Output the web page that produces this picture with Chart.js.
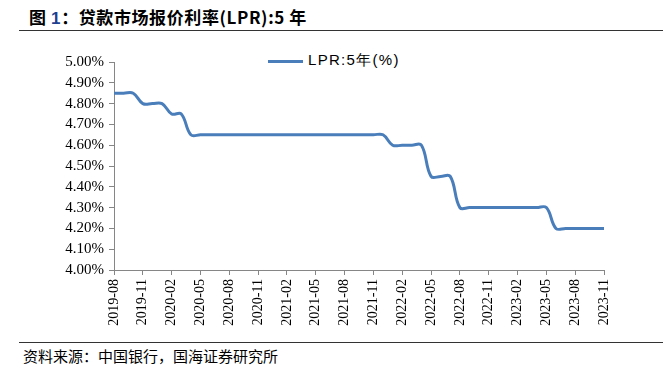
<!DOCTYPE html>
<html>
<head>
<meta charset="utf-8">
<script src="https://cdn.jsdelivr.net/npm/chart.js@4"></script>
<style>
  body { margin: 0; background: #fff; width: 663px; height: 376px; position: relative; overflow: hidden; }
  #title { position: absolute; left: 29px; top: 4px; font: bold 17px "Noto Sans CJK SC", sans-serif; letter-spacing: 0.6px; color: #000; white-space: nowrap; }
  #title .num { color: #1f3f8f; font-family: "Liberation Sans", sans-serif; }
  .rule { position: absolute; left: 19px; width: 644px; height: 0; border-top: 1.5px solid #333; }
  #legend { position: absolute; left: 268px; top: 51px; height: 20px; white-space: nowrap; }
  #legend .swatch { position: absolute; left: 0; top: 9px; width: 35px; height: 3px; background: #4a7ebb; }
  #legend .label { position: absolute; left: 40px; top: 0; font: 15px "Liberation Sans", sans-serif; letter-spacing: 1.3px; color: #000; }
  #source { position: absolute; left: 23px; top: 345px; font: 15px "Noto Sans CJK SC", sans-serif; color: #000; white-space: nowrap; }
  #wrap { position: absolute; left: 0; top: 40px; width: 663px; height: 295px; }
</style>
</head>
<body>
<div id="title">图 <span class="num">1</span>：贷款市场报价利率(LPR):5 年</div>
<div class="rule" style="top:30px"></div>
<div id="legend"><div class="swatch"></div><div class="label">LPR:5年(%)</div></div>
<div id="wrap"><canvas id="chart"></canvas></div>
<div class="rule" style="top:342px"></div>
<div id="source">资料来源：中国银行，国海证券研究所</div>

<script>
// months 2019-08 .. 2023-11
const months = [
  '2019-08','2019-09','2019-10','2019-11','2019-12',
  '2020-01','2020-02','2020-03','2020-04','2020-05','2020-06','2020-07','2020-08','2020-09','2020-10','2020-11','2020-12',
  '2021-01','2021-02','2021-03','2021-04','2021-05','2021-06','2021-07','2021-08','2021-09','2021-10','2021-11','2021-12',
  '2022-01','2022-02','2022-03','2022-04','2022-05','2022-06','2022-07','2022-08','2022-09','2022-10','2022-11','2022-12',
  '2023-01','2023-02','2023-03','2023-04','2023-05','2023-06','2023-07','2023-08','2023-09','2023-10','2023-11'
];

// 5-year LPR (%)
const lpr5y = [
  4.85, 4.85, 4.85, 4.80, 4.80,
  4.80, 4.75, 4.75, 4.65, 4.65, 4.65, 4.65, 4.65, 4.65, 4.65, 4.65, 4.65,
  4.65, 4.65, 4.65, 4.65, 4.65, 4.65, 4.65, 4.65, 4.65, 4.65, 4.65, 4.65,
  4.60, 4.60, 4.60, 4.60, 4.45, 4.45, 4.45, 4.30, 4.30, 4.30, 4.30, 4.30,
  4.30, 4.30, 4.30, 4.30, 4.30, 4.20, 4.20, 4.20, 4.20, 4.20, 4.20
];

const yTicks = [4.0, 4.1, 4.2, 4.3, 4.4, 4.5, 4.6, 4.7, 4.8, 4.9, 5.0];

const axisColor = '#868686';
const serif = "'Liberation Serif', 'Times New Roman', serif";

Chart.defaults.color = '#000';

new Chart(document.getElementById('chart'), {
  type: 'line',
  data: {
    labels: months,
    datasets: [{
      label: 'LPR:5年(%)',
      data: lpr5y,
      borderColor: '#4a7ebb',
      borderWidth: 3,
      pointRadius: 0,
      tension: 0.4,
      fill: false
    }]
  },
  options: {
    responsive: true,
    maintainAspectRatio: false,
    animation: false,
    layout: { padding: { top: 22, right: 59, left: 0, bottom: 0 } },
    plugins: { legend: { display: false }, tooltip: { enabled: false } },
    scales: {
      x: {
        offset: false,
        afterFit: s => { s.height = 65; },
        border: { color: axisColor, width: 1 },
        grid: {
          drawOnChartArea: false,
          tickLength: 5,
          color: c => (c.index % 3 === 0 ? axisColor : 'rgba(0,0,0,0)')
        },
        ticks: {
          autoSkip: false,
          maxRotation: 90,
          minRotation: 90,
          padding: 4,
          font: { family: serif, size: 14 },
          callback: (v, i) => (i % 3 === 0 ? months[i] : '')
        }
      },
      y: {
        min: 4.0,
        max: 5.0,
        afterFit: s => { s.width = 114; },
        afterBuildTicks: s => { s.ticks = yTicks.map(v => ({ value: v })); },
        border: { color: axisColor, width: 1 },
        grid: { drawOnChartArea: false, tickLength: 5, color: axisColor },
        ticks: {
          autoSkip: false,
          padding: 5,
          font: { family: serif, size: 15 },
          callback: v => v.toFixed(2) + '%'
        }
      }
    }
  }
});
</script>
</body>
</html>
